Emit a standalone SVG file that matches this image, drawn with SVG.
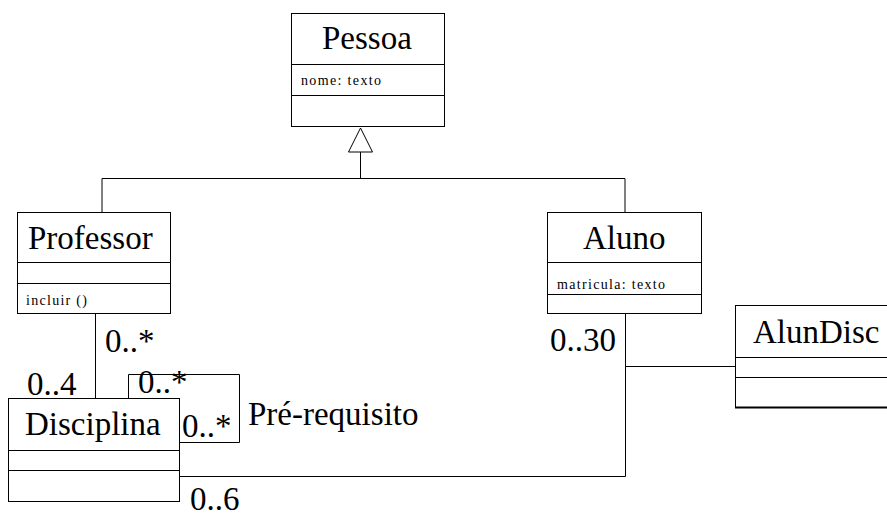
<svg xmlns="http://www.w3.org/2000/svg" width="887" height="516" viewBox="0 0 887 516">
  <style>
    .box { fill: #ffffff; stroke: #000000; stroke-width: 1; }
    .div { stroke: #000000; stroke-width: 1; }
    .line { fill: none; stroke: #000000; stroke-width: 1; }
    .name { font-family: "Liberation Serif", "Times New Roman", serif; font-size: 33px; fill: #000000; }
    .attr { font-family: "Liberation Serif", "Times New Roman", serif; font-size: 14px; fill: #000000; }
    .mult { font-family: "Liberation Serif", "Times New Roman", serif; font-size: 33px; fill: #000000; }
  </style>
  <rect width="887" height="516" fill="#ffffff"/>

  <!-- associations and generalization -->
  <g id="connectors">
    <polyline class="line" points="102,212 102,178.5 625,178.5 625,212"/>
    <line class="line" x1="360.5" y1="152" x2="360.5" y2="178"/>
    <polygon points="360.5,128 348.5,152 372.5,152" fill="#ffffff" stroke="#000000" stroke-width="1"/>
    <line class="line" x1="95.5" y1="314" x2="95.5" y2="398"/>
    <polyline class="line" points="128.5,398 128.5,374.5 239.5,374.5 239.5,442.5 179,442.5"/>
    <polyline class="line" points="625.5,314 625.5,476.5 179,476.5"/>
    <line class="line" x1="625.5" y1="366.5" x2="735" y2="366.5"/>
  </g>

  <g id="pessoa">
    <rect class="box" x="291.5" y="13.5" width="153" height="113"/>
    <line class="div" x1="291.5" y1="64.5" x2="444.5" y2="64.5"/>
    <line class="div" x1="291.5" y1="95.5" x2="444.5" y2="95.5"/>
    <text class="name" x="322" y="49">Pessoa</text>
    <text class="attr" x="301" y="85" textLength="80" lengthAdjust="spacing">nome: texto</text>
  </g>

  <g id="professor">
    <rect class="box" x="17.5" y="212.5" width="153" height="101"/>
    <line class="div" x1="17.5" y1="262.5" x2="170.5" y2="262.5"/>
    <line class="div" x1="17.5" y1="283.5" x2="170.5" y2="283.5"/>
    <text class="name" x="28" y="249">Professor</text>
    <text class="attr" x="26" y="305" textLength="61" lengthAdjust="spacing">incluir ()</text>
  </g>

  <g id="aluno">
    <rect class="box" x="547.5" y="212.5" width="154" height="101"/>
    <line class="div" x1="547.5" y1="262.5" x2="701.5" y2="262.5"/>
    <line class="div" x1="547.5" y1="294.5" x2="701.5" y2="294.5"/>
    <text class="name" x="583" y="249">Aluno</text>
    <text class="attr" x="557" y="289" textLength="108" lengthAdjust="spacing">matricula: texto</text>
  </g>

  <g id="disciplina">
    <rect class="box" x="8.5" y="398.5" width="171" height="103"/>
    <line class="div" x1="8.5" y1="450.5" x2="179.5" y2="450.5"/>
    <line class="div" x1="8.5" y1="470.5" x2="179.5" y2="470.5"/>
    <text class="name" x="25" y="435">Disciplina</text>
  </g>

  <g id="alundisc">
    <rect class="box" x="735.5" y="305.5" width="170" height="102"/>
    <line class="div" x1="735.5" y1="357.5" x2="905" y2="357.5"/>
    <line class="div" x1="735.5" y1="377.5" x2="905" y2="377.5"/>
    <line x1="735" y1="407.5" x2="905" y2="407.5" stroke="#000000" stroke-width="2"/>
    <text class="name" x="753" y="343">AlunDisc</text>
  </g>

  <!-- multiplicities and role name -->
  <g id="labels">
    <text class="mult" x="105" y="352">0..*</text>
    <text class="mult" x="27" y="395">0..4</text>
    <text class="mult" x="138" y="393">0..*</text>
    <text class="mult" x="182" y="437">0..*</text>
    <text class="mult" x="248" y="425">Pré-requisito</text>
    <text class="mult" x="190" y="510">0..6</text>
    <text class="mult" x="550" y="351">0..30</text>
  </g>
</svg>
